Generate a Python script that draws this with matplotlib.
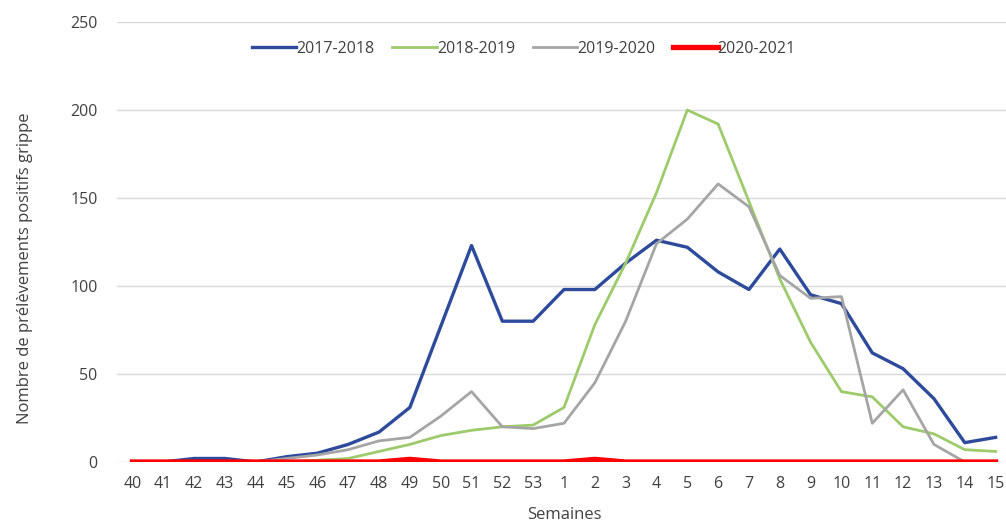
import numpy as np
import matplotlib.pyplot as plt

plt.rcParams['font.family'] = ['Open Sans', 'DejaVu Sans']

semaines = ['40', '41', '42', '43', '44', '45', '46', '47', '48', '49', '50', '51', '52', '53',
            '1', '2', '3', '4', '5', '6', '7', '8', '9', '10', '11', '12', '13', '14', '15']

s2017 = [0, 0, 2, 2, 0, 3, 5, 10, 17, 31, 77, 123, 80, 80,
         98, 98, 113, 126, 122, 108, 98, 121, 95, 90, 62, 53, 36, 11, 14]
s2018 = [0, 0, 0, 0, 0, 0, 1, 2, 6, 10, 15, 18, 20, 21,
         31, 78, 113, 153, 200, 192, 148, 104, 68, 40, 37, 20, 16, 7, 6]
s2019 = [0, 0, 0, 0, 0, 2, 4, 7, 12, 14, 26, 40, 20, 19,
         22, 45, 80, 124, 138, 158, 145, 106, 93, 94, 22, 41, 10, 0, 0]
s2020 = [0, 0, 0, 0, 0, 0, 0, 0, 0, 1.5, 0, 0, 0, 0,
         0, 1.5, 0, 0, 0, 0, 0, 0, 0, 0, 0, 0, 0, 0, 0]

fig = plt.figure(figsize=(10.06, 5.22), dpi=100)
ax = fig.add_axes([117/1006, 1-462/522, (1011-117)/1006, (462-22)/522])

x = np.arange(len(semaines))
ax.plot(x, s2017, color='#2E4A9B', lw=2.4, label='2017-2018', solid_joinstyle='round')
ax.plot(x, s2018, color='#9DCB6B', lw=2.0, label='2018-2019', solid_joinstyle='round')
ax.plot(x, s2019, color='#A5A5A5', lw=2.0, label='2019-2020', solid_joinstyle='round')
ax.plot(x, s2020, color='#FF0000', lw=3.8, label='2020-2021', solid_joinstyle='round')

ax.set_xlim(-0.5, len(semaines) - 0.5)
ax.set_ylim(0, 250)
ax.set_yticks([0, 50, 100, 150, 200, 250])
ax.set_xticks(x)
ax.set_xticklabels(semaines)
ax.grid(axis='y', color='#D9D9D9', lw=1)
ax.set_axisbelow(True)
for s in ax.spines.values():
    s.set_visible(False)
ax.tick_params(length=0, labelsize=11.5, colors='#404040', pad=10)
ax.tick_params(axis='y', pad=14)

ax.set_xlabel('Semaines', fontsize=12, color='#404040', labelpad=11)
ax.set_ylabel('Nombre de prélèvements positifs grippe', fontsize=12, color='#404040')
ax.yaxis.set_label_coords(-0.094, 0.44)

leg = ax.legend(loc='upper center', bbox_to_anchor=(0.455, 0.99), ncol=4, frameon=False,
                fontsize=11.5, handlelength=2.8, handletextpad=0.0, columnspacing=1.1)
for t in leg.get_texts():
    t.set_color('#404040')

fig.savefig('out.png', dpi=100)
